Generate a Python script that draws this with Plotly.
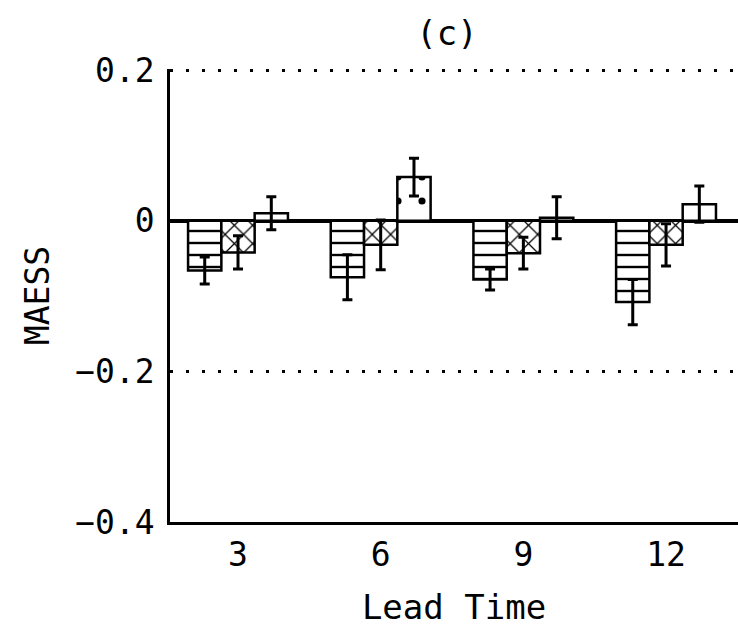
import plotly.graph_objects as go

# Lead times (x categories) and MAESS per scheme with error half-widths
lead_time = [3, 6, 9, 12]
maess_lines = [-0.066, -0.075, -0.078, -0.108]
err_lines = [0.018, 0.030, 0.014, 0.030]
maess_cross = [-0.042, -0.032, -0.043, -0.032]
err_cross = [0.022, 0.033, 0.021, 0.028]
maess_dots = [0.010, 0.058, 0.004, 0.022]
err_dots = [0.022, 0.025, 0.028, 0.024]

y_ticks = [0.2, 0, -0.2, -0.4]
y_labels = ["0.2", "0", "\u22120.2", "\u22120.4"]

FONT = "DejaVu Sans Mono"

series = [
    ("Lines", maess_lines, err_lines, "-", 12, 0.2),
    ("Cross", maess_cross, err_cross, "x", 13, 0.18),
    ("Dots", maess_dots, err_dots, ".", 24, 0.07),
]

fig = go.Figure()
for name, vals, errs, shape, size, solid in series:
    fig.add_trace(go.Bar(
        x=lead_time,
        y=vals,
        name=name,
        marker=dict(
            color="white",
            line=dict(color="black", width=2.5),
            pattern=dict(shape=shape, size=size, solidity=solid,
                         fgcolor="black", bgcolor="white", fillmode="replace"),
        ),
        error_y=dict(type="data", array=errs, visible=True,
                     color="black", thickness=3, width=5),
    ))

fig.update_layout(
    width=738,
    height=628,
    margin=dict(l=170, r=0, t=69, b=106),
    paper_bgcolor="white",
    plot_bgcolor="white",
    barmode="group",
    bargap=0.3,
    bargroupgap=0,
    showlegend=False,
    font=dict(family=FONT, size=33, color="black"),
    title=dict(text="(c)", x=447 / 738, xanchor="center",
               y=1 - 33 / 628, yanchor="middle",
               font=dict(family=FONT, size=34, color="black")),
    xaxis=dict(
        range=[1.570, 13.513],
        tickmode="array",
        tickvals=lead_time,
        ticktext=[str(v) for v in lead_time],
        showgrid=False,
        zeroline=False,
        showline=True,
        linecolor="black",
        linewidth=2.5,
        ticks="",
        ticklabelstandoff=2,
        title=dict(text="Lead Time", standoff=22,
                   font=dict(family=FONT, size=34)),
    ),
    yaxis=dict(
        # top bound nudged just past 0.2 so its dotted gridline is kept
        range=[-0.4, 0.2015],
        tickmode="array",
        tickvals=y_ticks,
        ticktext=y_labels,
        showgrid=True,
        gridcolor="black",
        gridwidth=3,
        griddash="3px,13px",
        zeroline=True,
        zerolinecolor="black",
        zerolinewidth=3.5,
        showline=True,
        linecolor="black",
        linewidth=2.5,
        ticks="",
        ticklabelstandoff=6,
        title=dict(text="MAESS", standoff=16,
                   font=dict(family=FONT, size=33)),
    ),
)

fig.write_html("out.html")
